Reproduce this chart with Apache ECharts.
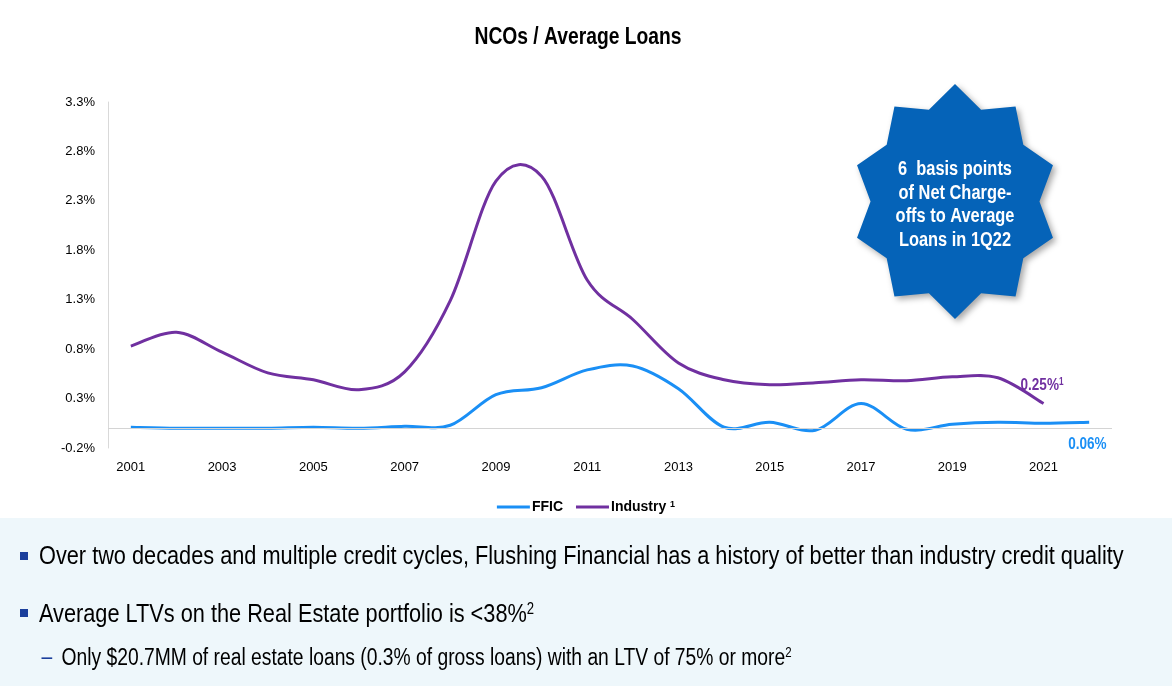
<!DOCTYPE html>
<html>
<head>
<meta charset="utf-8">
<script src="https://cdn.jsdelivr.net/npm/echarts@6/dist/echarts.min.js"></script>
<style>
html,body{margin:0;padding:0;background:#fff;}
#chart{width:1172px;height:686px;}
</style>
</head>
<body>
<div id="chart"></div>
<script>
// ---- data ----
var years = ['2001','2002','2003','2004','2005','2006','2007','2008','2009','2010','2011',
             '2012','2013','2014','2015','2016','2017','2018','2019','2020','2021','2022'];
var ffic = [0.01,0.00,0.00,0.00,0.01,0.00,0.02,0.03,0.34,0.41,0.59,
            0.63,0.40,0.01,0.06,-0.02,0.25,-0.01,0.04,0.06,0.05,0.06];
var industry = [0.83,0.97,0.77,0.56,0.49,0.39,0.57,1.29,2.50,2.55,1.50,
                1.10,0.66,0.49,0.44,0.46,0.49,0.48,0.52,0.51,0.25];
var yTicks = {min:-0.2, max:3.3, step:0.5};
var seriesNames = ['FFIC','Industry'];
var fficEndLabel = '0.06%';
var industryEndLabel = '0.25%';

var NARROW_SCALE = 0.82;   // Arial Narrow ≈ 82% of Arial width
var ARIAL = "'Liberation Sans',Arial,sans-serif";
var BLUE = '#1a8ff5';
var PURPLE = '#7030a0';
var NAVY = '#1b3f9c';

var chart = echarts.init(document.getElementById('chart'));

// Excel-like smoothed path (Catmull-Rom bezier) through points given by the axis scales
function smoothPath(pts){
  var d = 'M' + pts[0][0] + ' ' + pts[0][1];
  for (var i = 0; i < pts.length - 1; i++) {
    var p0 = pts[i-1] || pts[i], p1 = pts[i], p2 = pts[i+1], p3 = pts[i+2] || pts[i+1];
    var c1x = p1[0] + (p2[0]-p0[0])/6, c1y = p1[1] + (p2[1]-p0[1])/6;
    var c2x = p2[0] - (p3[0]-p1[0])/6, c2y = p2[1] - (p3[1]-p1[1])/6;
    d += ' C' + c1x + ' ' + c1y + ' ' + c2x + ' ' + c2y + ' ' + p2[0] + ' ' + p2[1];
  }
  return d;
}

function makeRender(values, color, labelFn){
  return function(params, api){
    var n = values.length;
    if (params.dataIndex === 0) {
      var pts = values.map(function(v,i){ return api.coord([i, v]); });
      return {type:'path', silent:true,
        shape:{pathData: smoothPath(pts)},
        style:{fill:null, stroke:color, lineWidth:3, lineJoin:'round', lineCap:'butt'}};
    }
    if (params.dataIndex === n-1) {
      return labelFn(api.coord([n-1, values[n-1]]));
    }
    return null;
  };
}

var fficLabel = function(p){
  return {type:'text', x:p[0]-21, y:p[1]+22, scaleX:NARROW_SCALE, silent:true,
    style:{text:fficEndLabel, fill:BLUE, font:'bold 16.5px '+ARIAL, verticalAlign:'middle', align:'left'}};
};
var industryLabel = function(p){
  return {type:'text', x:p[0]-23, y:p[1]-18, scaleX:NARROW_SCALE, silent:true,
    style:{text:industryEndLabel+'{sup|1}', fill:PURPLE, font:'bold 16.5px '+ARIAL, verticalAlign:'middle', align:'left',
      rich:{sup:{fontSize:10, fontWeight:'bold', fontFamily:ARIAL, verticalAlign:'top', lineHeight:10, fill:PURPLE}}}};
};

// star decoration
var cx=955, cy=201.5, Rx=103, Ry=117.5, inner=0.82, pts=[];
for (var i=0;i<20;i++){
  var a=(90-i*18)*Math.PI/180, r=(i%2===0)?1:inner;
  pts.push([cx+Rx*r*Math.cos(a), cy-Ry*r*Math.sin(a)]);
}

function bodyText(x, y, text, size, rich){
  return {type:'text', x:x, y:y, scaleX:NARROW_SCALE, silent:true,
    style:{text:text, fill:'#000', font:size+'px '+ARIAL, verticalAlign:'middle', align:'left', rich:rich}};
}

var option = {
  animation:false,
  legend:{
    data:[{name:'FFIC',icon:'rect'},{name:'Industry',icon:'rect'}],
    top:495, left:'center', itemWidth:33, itemHeight:3, itemGap:13,
    formatter:function(n){return n==='Industry' ? 'Industry {sup|1}' : n;},
    textStyle:{fontFamily:ARIAL, fontWeight:'bold', fontSize:14, color:'#000', padding:[0,0,0,-3],
      rich:{sup:{fontSize:9, verticalAlign:'top', lineHeight:9, fontFamily:ARIAL, color:'#000'}}}
  },
  grid:{left:108, right:60, top:102, bottom:238},
  xAxis:{
    type:'category', data:years, boundaryGap:true,
    axisLine:{show:false}, axisTick:{show:false},
    axisLabel:{interval:1, margin:13, fontFamily:ARIAL, fontSize:13, color:'#000'}
  },
  yAxis:{
    type:'value', min:yTicks.min, max:yTicks.max, interval:yTicks.step,
    axisLine:{show:true, lineStyle:{color:'#d9d9d9', width:1}},
    axisTick:{show:false}, splitLine:{show:false},
    axisLabel:{margin:13, fontFamily:ARIAL, fontSize:13, color:'#000',
      formatter:function(v){return v.toFixed(1)+'%';}}
  },
  series:[
    {name:'FFIC', type:'custom', data:ffic.map(function(v,i){return [i,v];}),
     encode:{x:0, y:1}, itemStyle:{color:BLUE}, z:3,
     renderItem:makeRender(ffic, BLUE, fficLabel),
     markLine:{silent:true, symbol:'none', label:{show:false}, animation:false,
       lineStyle:{color:'#d4d4d4', width:1, type:'solid'}, data:[{yAxis:0}]}},
    {name:'Industry', type:'custom', data:industry.map(function(v,i){return [i,v];}),
     encode:{x:0, y:1}, itemStyle:{color:PURPLE}, z:2,
     renderItem:makeRender(industry, PURPLE, industryLabel)}
  ],
  graphic:[
    {type:'text', x:578, y:38, scaleX:NARROW_SCALE, silent:true,
     style:{text:'NCOs / Average Loans', fill:'#000', font:'bold 23.5px '+ARIAL, align:'center', verticalAlign:'middle'}},
    {type:'polygon', shape:{points:pts}, z:10, silent:true,
     style:{fill:'#0563b8', shadowBlur:6, shadowColor:'rgba(0,0,0,0.35)', shadowOffsetX:3, shadowOffsetY:3}},
    {type:'text', x:cx, y:205, z:11, scaleX:NARROW_SCALE, silent:true,
     style:{text:'6  basis points\nof Net Charge-\noffs to Average\nLoans in 1Q22', fill:'#fff',
       font:'bold 20px '+ARIAL, lineHeight:23.5, align:'center', verticalAlign:'middle'}},
    {type:'rect', shape:{x:0, y:518, width:1172, height:168}, z:-1, silent:true, style:{fill:'#eef7fb'}},
    {type:'rect', shape:{x:20, y:552, width:8, height:8}, silent:true, style:{fill:NAVY}},
    bodyText(39, 556.5, 'Over two decades and multiple credit cycles, Flushing Financial has a history of better than industry credit quality', 26.5),
    {type:'rect', shape:{x:20, y:609, width:8, height:8}, silent:true, style:{fill:NAVY}},
    bodyText(39, 615, 'Average LTVs on the Real Estate portfolio is <38%{sup|2}', 26.5,
      {sup:{fontSize:16, verticalAlign:'top', lineHeight:16, fontFamily:ARIAL, fill:'#000'}}),
    {type:'text', x:41.5, y:658, scaleX:NARROW_SCALE, silent:true,
     style:{text:'\u2013', fill:NAVY, font:'23.5px '+ARIAL, verticalAlign:'middle', align:'left'}},
    bodyText(61.5, 658.5, 'Only $20.7MM of real estate loans (0.3% of gross loans) with an LTV of 75% or more{sup|2}', 23.5,
      {sup:{fontSize:14, verticalAlign:'top', lineHeight:14, fontFamily:ARIAL, fill:'#000'}})
  ]
};
chart.setOption(option);
</script>
</body>
</html>
